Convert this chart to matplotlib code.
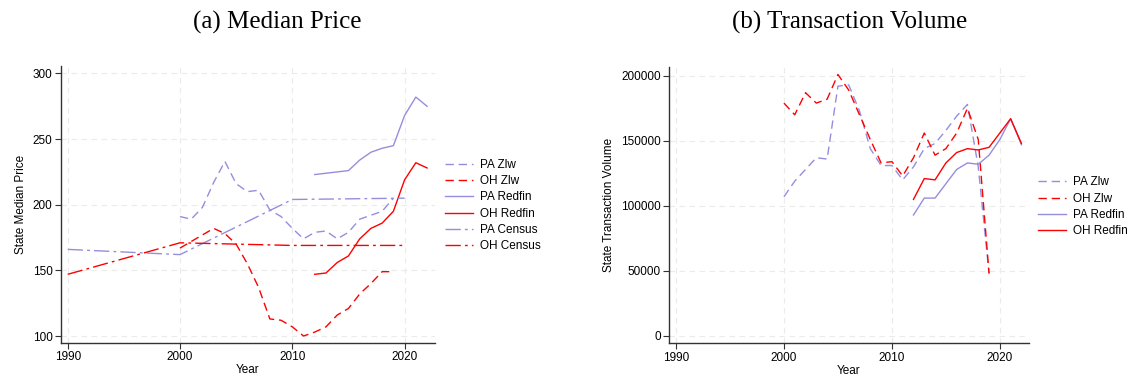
import numpy as np
import matplotlib.pyplot as plt

# ---- data ----
yrs_zlw = list(range(2000, 2020))
yrs_rf = list(range(2012, 2023))
yrs_census = [1990, 2000, 2010, 2020]

pa_zlw_price = [191, 189, 198, 217, 233, 216, 210, 211, 196, 191, 182, 174, 179, 180, 174, 179, 189, 192, 195, 205]
oh_zlw_price = [167, 172, 177, 182, 178, 170, 155, 137, 113, 112, 107, 100, 103, 107, 116, 121, 132, 140, 149, 149]
pa_rf_price = [223, 224, 225, 226, 234, 240, 243, 245, 268, 282, 275]
oh_rf_price = [147, 148, 156, 161, 174, 182, 186, 195, 219, 232, 228]
pa_census_price = [166, 162, 204, 205]
oh_census_price = [147, 171, 169, 169]

pa_zlw_vol = [107000, 119000, 128000, 137000, 136000, 192000, 193000, 173000, 144000, 131000,
              131000, 120000, 130000, 144000, 148000, 158000, 169000, 178000, 130000, 48000]
oh_zlw_vol = [179000, 170000, 187000, 179000, 182000, 201000, 189000, 170000, 151000, 133000,
              134000, 123000, 137000, 156000, 139000, 144000, 156000, 175000, 151000, 48000]
pa_rf_vol = [93000, 106000, 106000, 117000, 128000, 133000, 132000, 139000, 151000, 167000, 147000]
oh_rf_vol = [105000, 121000, 120000, 133000, 141000, 144000, 143000, 145000, 156000, 167000, 148000]

PURPLE = '#958edd'
RED = '#ff0000'
DASH = (0, (6, 3.5))
DASHDOT = (0, (11, 3, 2, 3))

plt.rcParams['font.family'] = ['Liberation Sans', 'DejaVu Sans']
plt.rcParams['font.size'] = 8.5

fig = plt.figure(figsize=(11.35, 3.81), dpi=100)
ax1 = fig.add_axes([0.0537, 0.1005, 0.3295, 0.726])
ax2 = fig.add_axes([0.5894, 0.099, 0.3172, 0.726])


def style(ax):
    for s in ['top', 'right']:
        ax.spines[s].set_visible(False)
    for s in ['left', 'bottom']:
        ax.spines[s].set_color('#333333')
        ax.spines[s].set_linewidth(1.0)
    ax.grid(True, color='#ebebeb', linestyle=(0, (5, 4)), linewidth=0.8)
    ax.set_axisbelow(True)
    ax.tick_params(direction='out', length=4, width=0.8, color='#333333', labelsize=8.5, pad=2)
    ax.set_xticks([1990, 2000, 2010, 2020])
    ax.set_xlabel('Year', fontsize=8.5, labelpad=1)


# (a) median price
ax1.plot(yrs_zlw, pa_zlw_price, color=PURPLE, lw=1, ls=DASH, label='PA Zlw')
ax1.plot(yrs_zlw, oh_zlw_price, color=RED, lw=1, ls=DASH, label='OH Zlw')
ax1.plot(yrs_rf, pa_rf_price, color=PURPLE, lw=1, label='PA Redfin')
ax1.plot(yrs_rf, oh_rf_price, color=RED, lw=1, label='OH Redfin')
ax1.plot(yrs_census, pa_census_price, color=PURPLE, lw=1, ls=DASHDOT, label='PA Census')
ax1.plot(yrs_census, oh_census_price, color=RED, lw=1, ls=DASHDOT, label='OH Census')
style(ax1)
ax1.set_xlim(1989.4, 2022.7)
ax1.set_ylim(94.9, 305.6)
ax1.set_yticks([100, 150, 200, 250, 300])
ax1.set_ylabel('State Median Price', fontsize=8.5, labelpad=4)
ax1.legend(loc='upper left', bbox_to_anchor=(445 / 1135, 1 - 159 / 381), bbox_transform=fig.transFigure,
           frameon=False, borderpad=0, borderaxespad=0, handlelength=2.4, handletextpad=0.6,
           labelspacing=0.36, fontsize=8.5)

# (b) transaction volume
ax2.plot(yrs_zlw, pa_zlw_vol, color=PURPLE, lw=1, ls=DASH, label='PA Zlw')
ax2.plot(yrs_zlw, oh_zlw_vol, color=RED, lw=1, ls=DASH, label='OH Zlw')
ax2.plot(yrs_rf, pa_rf_vol, color=PURPLE, lw=1, label='PA Redfin')
ax2.plot(yrs_rf, oh_rf_vol, color=RED, lw=1, label='OH Redfin')
style(ax2)
ax2.set_xlim(1989.35, 2022.7)
ax2.set_ylim(-5600, 207000)
ax2.set_yticks([0, 50000, 100000, 150000, 200000])
ax2.set_ylabel('State Transaction Volume', fontsize=8.5, labelpad=4)
ax2.legend(loc='upper left', bbox_to_anchor=(1038 / 1135, 1 - 176.5 / 381), bbox_transform=fig.transFigure,
           frameon=False, borderpad=0, borderaxespad=0, handlelength=2.4, handletextpad=0.6,
           labelspacing=0.36, fontsize=8.5)

fig.text(277 / 1135, 1 - 22 / 381, '(a) Median Price', ha='center', va='center',
         family=['Liberation Serif', 'DejaVu Serif'], fontsize=18)
fig.text(850 / 1135, 1 - 22 / 381, '(b) Transaction Volume', ha='center', va='center',
         family=['Liberation Serif', 'DejaVu Serif'], fontsize=18)

fig.savefig('out.png', dpi=100)
